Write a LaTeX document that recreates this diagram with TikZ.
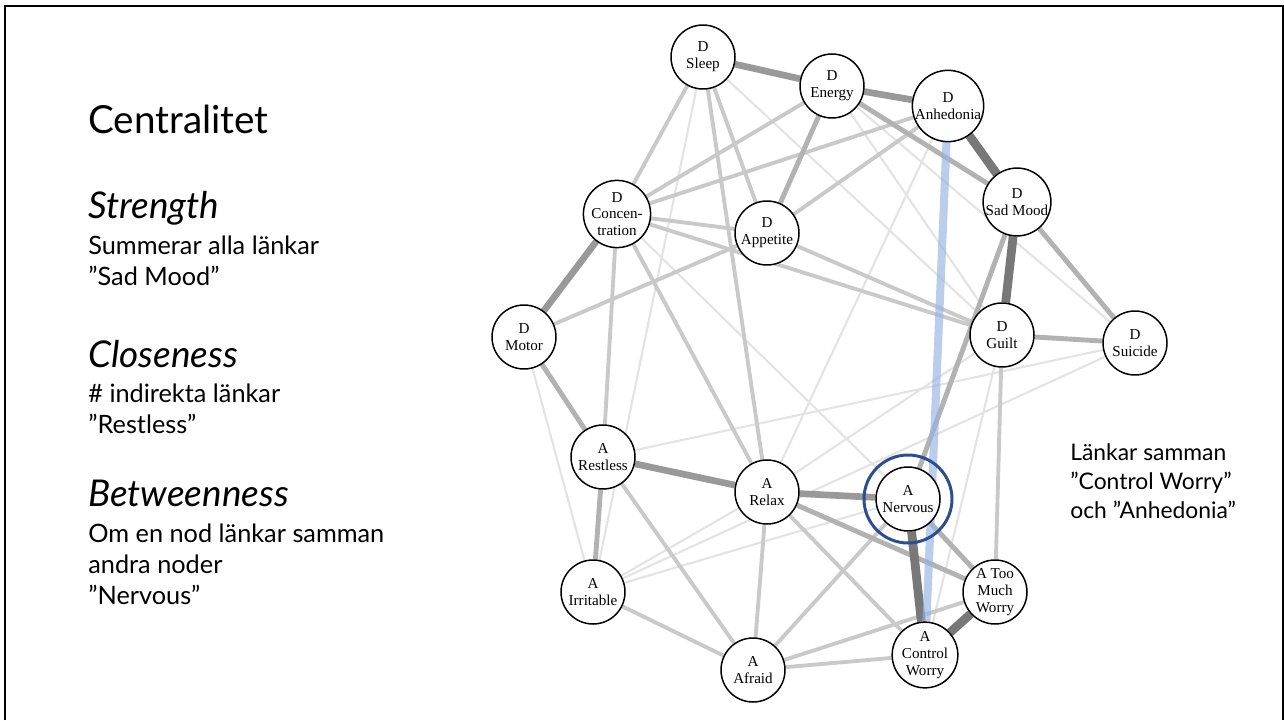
\documentclass[tikz,border=0pt]{standalone}
\usepackage{fontspec}
\setmainfont{Lato}
\newfontfamily\symfont{Liberation Serif}
\usetikzlibrary{positioning,backgrounds}
\definecolor{ringblue}{RGB}{44,78,145}
\definecolor{hiblue}{RGB}{150,178,228}

\begin{document}
\begin{tikzpicture}[
  x=0.02cm,y=-0.02cm,
  sym/.style={draw,circle,fill=white,line width=0.85pt,minimum size=1.28cm,inner sep=0pt,
              align=center,font=\symfont\fontsize{8.6}{9.6}\selectfont},
  faint/.style={line width=1.2pt,draw=black!11},
  weak/.style={line width=2.2pt,draw=black!21},
  mid/.style={line width=2.8pt,draw=black!30},
  strong/.style={line width=3.8pt,draw=black!40},
  heavy/.style={line width=5pt,draw=black!53},
  hilite/.style={line width=4.6pt,draw=hiblue,opacity=0.65},
  head/.style={anchor=base west,inner sep=0pt,font=\fontsize{21}{25}\selectfont\itshape},
  body/.style={anchor=base west,inner sep=0pt,align=left,font=\fontsize{14.4}{17.6}\selectfont},
]
\useasboundingbox (0,0) rectangle (1284,720);
% frame
\draw[line width=1.3pt] (5,720) -- (5,6) -- (1283,6) -- (1283,720);

% left column (multi-line texts sit on their last baseline)
\node[anchor=base west,inner sep=0pt,font=\fontsize{22}{26}\selectfont] (title) at (88,133) {Centralitet};
\node[head] (strh)  at (88,218) {Strength};
\node[body] (strt)  at (88,285) {Summerar alla länkar\\”Sad Mood”};
\node[head] (cloh)  at (88,367) {Closeness};
\node[body] (clot)  at (88,433) {\# indirekta länkar\\”Restless”};
\node[head] (beth)  at (88,506) {Betweenness};
\node[body] (bett)  at (88,604) {Om en nod länkar samman\\andra noder\\”Nervous”};
% note on the right
\node[anchor=base west,inner sep=0pt,align=left,font=\fontsize{13}{16.4}\selectfont] (note) at (1070,518)
  {Länkar samman\\”Control Worry”\\och ”Anhedonia”};

% symptoms: D = depression, A = anxiety
\node[sym] (sl) at (703,57)  {D\\Sleep};
\node[sym] (en) at (832,86)  {D\\Energy};
\node[sym] (an) at (948,106) {D\\Anhedonia};
\node[sym] (sm) at (1017,202) {D\\Sad Mood};
\node[sym] (gu) at (1002,335) {D\\Guilt};
\node[sym] (su) at (1135,343) {D\\Suicide};
\node[sym] (co) at (617,214) {D\\Concen-\\tration};
\node[sym] (ap) at (767,233) {D\\Appetite};
\node[sym] (mo) at (524,337) {D\\Motor};
\node[sym] (re) at (603,457) {A\\Restless};
\node[sym] (rx) at (767,492) {A\\Relax};
\node[sym] (ir) at (593,592) {A\\Irritable};
\node[sym] (af) at (753,670) {A\\Afraid};
\node[sym] (ne) at (908,499) {A\\Nervous};
\node[sym] (tw) at (995,592) {A Too\\Much\\Worry};
\node[sym] (cw) at (925,655) {A\\Control\\Worry};

% edges, faintest first
\begin{scope}[on background layer]
  \draw[faint] (sl) -- (ir);
  \draw[faint] (mo) -- (ir);
  \draw[faint] (co) -- (ne);
  \draw[faint] (an) -- (rx);
  \draw[faint] (ir) -- (rx);
  \draw[faint] (ir) -- (ne);
  \draw[faint] (su) -- (ir);
  \draw[faint] (su) -- (re);
  \draw[faint] (gu) -- (cw);
  \draw[faint] (gu) -- (rx);
  \draw[faint] (en) -- (gu);
  \draw[faint] (sl) -- (gu);
  \draw[faint] (en) -- (su);
  \draw[weak] (sl) -- (co);
  \draw[weak] (sl) -- (ap);
  \draw[weak] (sl) -- (rx);
  \draw[weak] (co) -- (en);
  \draw[weak] (co) -- (an);
  \draw[weak] (co) -- (ap);
  \draw[weak] (co) -- (gu);
  \draw[weak] (ap) -- (gu);
  \draw[weak] (ap) -- (mo);
  \draw[weak] (ap) -- (an);
  \draw[weak] (co) -- (re);
  \draw[weak] (co) -- (rx);
  \draw[weak] (re) -- (af);
  \draw[weak] (ir) -- (af);
  \draw[weak] (rx) -- (af);
  \draw[weak] (rx) -- (cw);
  \draw[weak] (af) -- (tw);
  \draw[weak] (af) -- (cw);
  \draw[weak] (af) -- (ne);
  \draw[weak] (gu) -- (tw);
  \draw[mid] (en) -- (ap);
  \draw[mid] (mo) -- (re);
  \draw[mid] (re) -- (ir);
  \draw[mid] (en) -- (sm);
  \draw[mid] (sm) -- (su);
  \draw[mid] (gu) -- (su);
  \draw[mid] (sm) -- (ne);
  \draw[mid] (rx) -- (tw);
  \draw[mid] (ne) -- (tw);
  \draw[strong] (sl) -- (en);
  \draw[strong] (en) -- (an);
  \draw[strong] (co) -- (mo);
  \draw[strong] (re) -- (rx);
  \draw[strong] (rx) -- (ne);
  \draw[heavy] (an) -- (sm);
  \draw[heavy] (sm) -- (gu);
  \draw[heavy] (ne) -- (cw);
  \draw[heavy] (tw) -- (cw);
  % highlighted bridge
  \draw[hilite] (an) -- (cw);
\end{scope}

\draw[ringblue,line width=1.7pt] (ne) circle (44);
\end{tikzpicture}
\end{document}
